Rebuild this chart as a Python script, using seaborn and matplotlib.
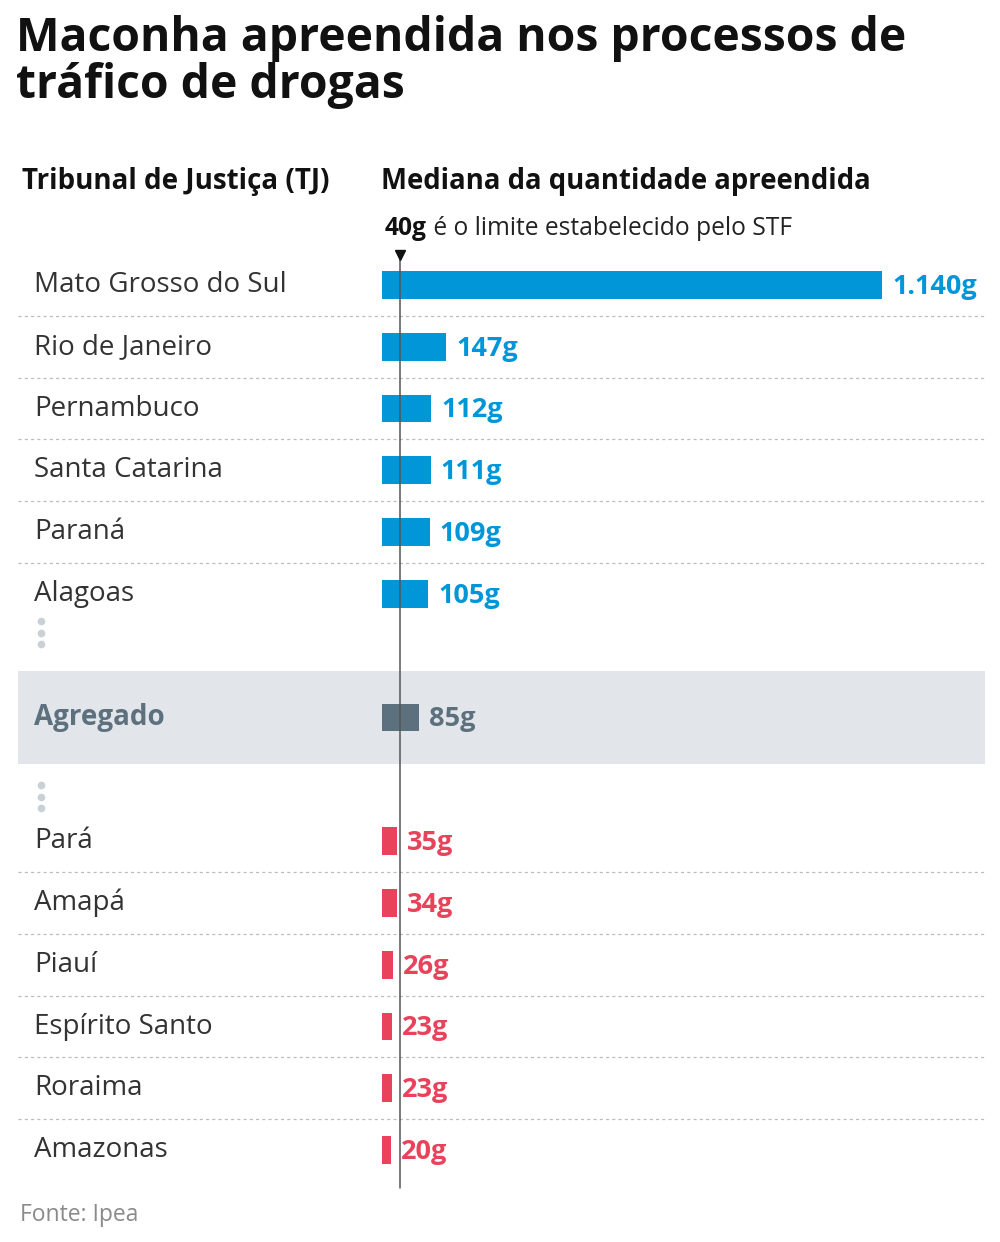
import matplotlib
matplotlib.use("Agg")
import matplotlib.pyplot as plt
import seaborn as sns
import pandas as pd

# dados (Ipea) - mediana de maconha apreendida por TJ, em gramas
tribunais_acima = ["Mato Grosso do Sul", "Rio de Janeiro", "Pernambuco",
                   "Santa Catarina", "Paraná", "Alagoas"]
valores_acima = [1140, 147, 112, 111, 109, 105]
agregado_nome = "Agregado"
agregado_valor = 85
tribunais_abaixo = ["Pará", "Amapá", "Piauí", "Espírito Santo", "Roraima", "Amazonas"]
valores_abaixo = [35, 34, 26, 23, 23, 20]
limite_stf = 40

titulo = "Maconha apreendida nos processos de\ntráfico de drogas"
fonte = "Fonte: Ipea"

AZUL = "#0096d8"
CINZA = "#5c707d"
VERMELHO = "#e8435a"

sns.set_theme(style="white")
plt.rcParams["font.family"] = ["Open Sans", "DejaVu Sans"]

df = pd.DataFrame({
    "tribunal": tribunais_acima + [agregado_nome] + tribunais_abaixo,
    "valor": valores_acima + [agregado_valor] + valores_abaixo,
    "grupo": ["acima"] * len(tribunais_acima) + ["agregado"] + ["abaixo"] * len(tribunais_abaixo),
})
cores = {"acima": AZUL, "agregado": CINZA, "abaixo": VERMELHO}
ordem = tribunais_acima + ["_gap1", agregado_nome, "_gap2"] + tribunais_abaixo
pos = {nome: i for i, nome in enumerate(ordem)}

fig = plt.figure(figsize=(10, 12.42), dpi=100)
W, H = 1000, 1242
ax = fig.add_axes([18 / W, 1 - 1200 / H, 967 / W, 960 / H])

# faixa do agregado
ax.axhspan(pos[agregado_nome] - 0.75, pos[agregado_nome] + 0.75, color="#e2e6ea", zorder=0, lw=0)

sns.barplot(data=df, x="valor", y="tribunal", hue="grupo", order=ordem, palette=cores,
            dodge=False, orient="h", width=0.45, saturation=1, legend=False, ax=ax,
            zorder=2, linewidth=0)

px_por_g = 500 / 1140
ax.set_xlim(-364 / px_por_g, 603 / px_por_g)
ax.set_ylim(14.806, -0.728)
ax.axis("off")

# separadores pontilhados
for grupo in (tribunais_acima, tribunais_abaixo):
    for nome in grupo[:-1]:
        ax.axhline(pos[nome] + 0.5, color="#bdbdbd", lw=0.9, ls=(0, (2.5, 2.5)), zorder=1)

yt = ax.get_yaxis_transform()
for _, r in df.iterrows():
    y = pos[r["tribunal"]]
    cor_nome = "#333333"
    peso = "normal"
    if r["grupo"] == "agregado":
        cor_nome, peso = CINZA, "bold"
    ax.text(16 / 967, y, r["tribunal"], transform=yt, ha="left", va="center",
            fontsize=20, color=cor_nome, fontweight=peso)
    rotulo = f"{r['valor']:,}".replace(",", ".") + "g"
    ax.text(r["valor"] + 10 / px_por_g, y + 0.03, rotulo, ha="left", va="center",
            fontsize=19.5, fontweight="bold", color=cores[r["grupo"]])

# reticências
for centro in (5.63, 8.28):
    for d in (-0.185, 0, 0.185):
        ax.plot([23 / 967], [centro + d], marker="o", ms=4.5, color="#c9d0d6",
                transform=yt, clip_on=False, zorder=3)

# linha do limite do STF
ax.axvline(limite_stf, ymin=12 / 960, ymax=945 / 960, color="#555555", lw=1.1, zorder=4)
ax.plot([limite_stf], [-0.49], marker="v", ms=7, color="#111111", clip_on=False, zorder=5)

t1 = fig.text(385 / W, 1 - 229 / H, "40g", fontsize=17.7, fontweight="bold",
              color="#111111", va="center", ha="left")
ax.annotate(" é o limite estabelecido pelo STF", xy=(1, 0), xycoords=t1,
            va="bottom", ha="left", fontsize=17.7, color="#222222")

# cabeçalhos
fig.text(16 / W, 1 - 62 / H, titulo, fontsize=33.3, fontweight="bold", color="#111111",
         va="center", ha="left", linespacing=1.0)
fig.text(22 / W, 1 - 182 / H, "Tribunal de Justiça (TJ)", fontsize=20, fontweight="bold",
         color="#111111", va="center", ha="left")
fig.text(381 / W, 1 - 182 / H, "Mediana da quantidade apreendida", fontsize=19.8,
         fontweight="bold", color="#111111", va="center", ha="left")
fig.text(20 / W, 1 - 1215 / H, fonte, fontsize=16.5, color="#8a8a8a", va="center", ha="left")

fig.savefig("out.png", dpi=100, facecolor="white")
